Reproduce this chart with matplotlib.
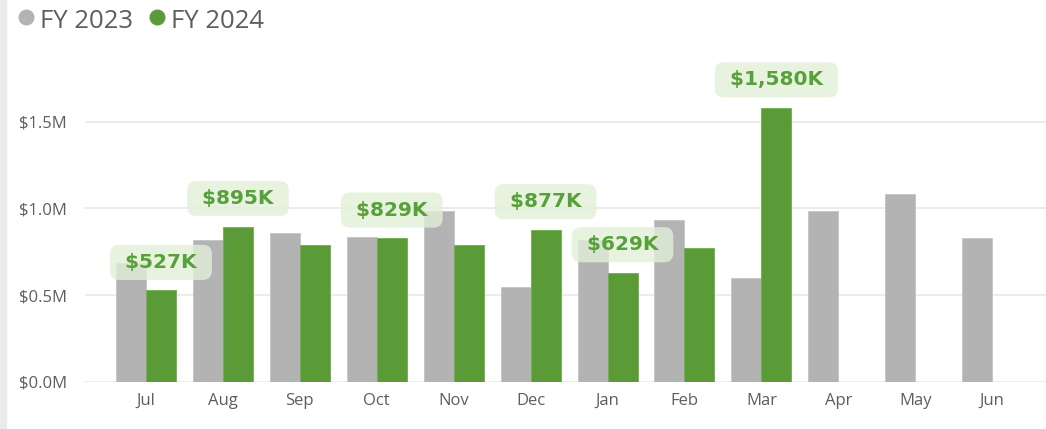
import matplotlib
matplotlib.use("Agg")
import matplotlib.pyplot as plt
from matplotlib.lines import Line2D
from matplotlib.patches import Rectangle
import numpy as np

months = ["Jul", "Aug", "Sep", "Oct", "Nov", "Dec", "Jan", "Feb", "Mar", "Apr", "May", "Jun"]
fy2023 = [0.687, 0.820, 0.856, 0.837, 0.985, 0.548, 0.818, 0.935, 0.600, 0.985, 1.085, 0.831]
fy2024 = [0.527, 0.895, 0.789, 0.829, 0.787, 0.877, 0.629, 0.770, 1.580]
labelled = ["Jul", "Aug", "Oct", "Dec", "Jan", "Mar"]
yticks = [0.0, 0.5, 1.0, 1.5]
series_names = ["FY 2023", "FY 2024"]

GRAY = "#B3B3B3"
GREEN = "#5A9A37"
TXT = "#605E5C"
LABEL_GREEN = "#58A03A"
BOX = "#E1F0D8"

W, H = 1046, 429
fig = plt.figure(figsize=(W / 100, H / 100), dpi=100)
ax = fig.add_axes([85 / W, 1 - 381.7 / H, (W - 85) / W, (381.7 - 60) / H])

x = np.arange(len(months))
bw = 0.39
ax.bar(x - bw / 2, fy2023, width=bw, color=GRAY, edgecolor="#C4C4C4", linewidth=0.6, zorder=2)
x24 = np.arange(len(fy2024))
ax.bar(x24 + bw / 2, fy2024, width=bw, color=GREEN, edgecolor="#6DAF4A", linewidth=0.6, zorder=2)

for i, v in enumerate(fy2024):
    if months[i] in labelled:
        ax.annotate(f" ${v*1000:,.0f}K ", xy=(i + bw / 2, v), xytext=(0, 28),
                    textcoords="offset pixels", ha="center", va="center",
                    fontsize=14.5, fontweight="bold", color=LABEL_GREEN,
                    family="DejaVu Sans", zorder=5,
                    bbox=dict(boxstyle="round,pad=0.4,rounding_size=0.45",
                              fc=BOX, ec="none", alpha=0.8))

ax.set_xlim(-0.793, 11.70)
ax.set_ylim(0, (381.7 - 60) / 173.3)
ax.set_xticks(x)
ax.set_xticklabels(months)
ax.set_yticks(yticks)
ax.set_yticklabels([f"${t:.1f}M" for t in yticks])
ax.grid(axis="y", color="#EAEAEA", linewidth=1.3, zorder=0)
ax.set_axisbelow(True)
for s in ax.spines.values():
    s.set_visible(False)
ax.tick_params(axis="both", length=0, colors=TXT, labelsize=12)
ax.tick_params(axis="y", pad=13)
ax.tick_params(axis="x", pad=8)
for lab in ax.get_xticklabels() + ax.get_yticklabels():
    lab.set_family("Open Sans")

# legend
fig.add_artist(Line2D([26 / W], [1 - 17 / H], marker="o", markersize=10.5,
                      color=GRAY, transform=fig.transFigure, linestyle="none"))
fig.text(40 / W, 1 - 21 / H, series_names[0], fontsize=18.5, color=TXT,
         family="Open Sans", va="center", ha="left")
fig.add_artist(Line2D([157 / W], [1 - 17 / H], marker="o", markersize=10.5,
                      color=GREEN, transform=fig.transFigure, linestyle="none"))
fig.text(171 / W, 1 - 21 / H, series_names[1], fontsize=18.5, color=TXT,
         family="Open Sans", va="center", ha="left")

# left border
fig.add_artist(Rectangle((0, 0), 6 / W, 1, transform=fig.transFigure,
                         color="#EBEBEB", zorder=0))

fig.savefig("out.png", dpi=100)
